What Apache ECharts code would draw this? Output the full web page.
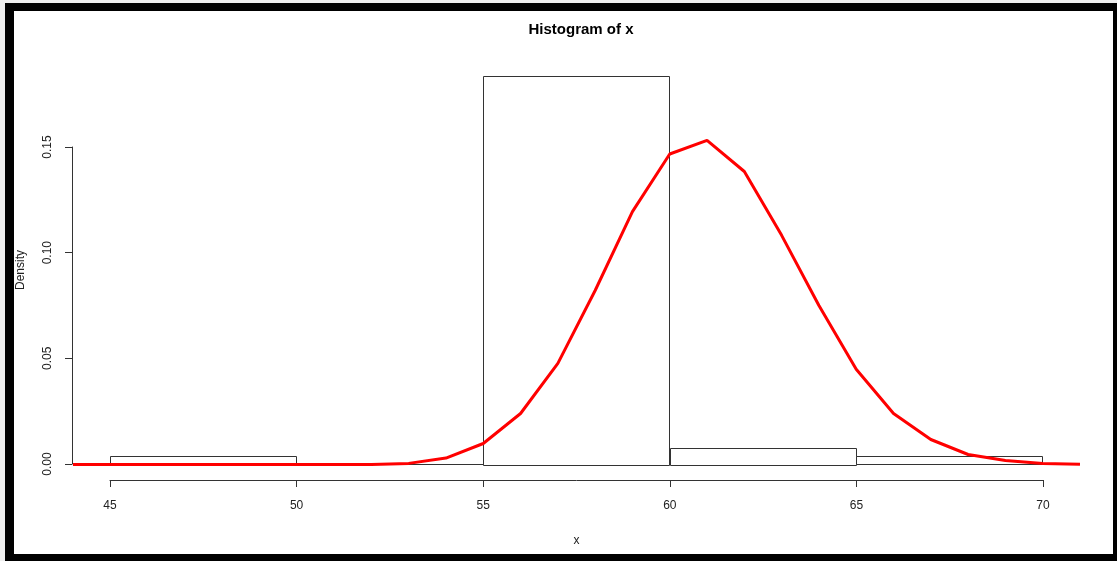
<!DOCTYPE html>
<html>
<head>
<meta charset="utf-8">
<script src="https://cdn.jsdelivr.net/npm/echarts@6/dist/echarts.min.js"></script>
<style>
  html, body { margin: 0; padding: 0; background: #fff; }
  #histChart { width: 1117px; height: 561px; }
</style>
</head>
<body>
<div id="histChart"></div>
<script>
// histogram bins (start, end) and density
const binStarts = [45, 50, 55, 60, 65];
const binEnds = [50, 55, 60, 65, 70];
const binDensity = [0.004, 0, 0.184, 0.008, 0.004];

// red density curve
const curveX = [44, 45, 46, 47, 48, 49, 50, 51, 52, 53, 54, 55, 56, 57, 58, 59, 60, 61, 62, 63, 64, 65, 66, 67, 68, 69, 70, 71];
const curveY = [0, 0, 0, 0, 0, 0, 0, 0, 0, 0.0005, 0.003, 0.0099, 0.0241, 0.0478, 0.0823, 0.1196, 0.1469, 0.1533, 0.1386, 0.1084, 0.0752, 0.045, 0.0241, 0.0118, 0.0047, 0.0019, 0.0005, 0.0001];

const xTicks = [45, 50, 55, 60, 65, 70];
const yTicks = [0, 0.05, 0.10, 0.15];

const font = "'Liberation Sans', Arial, sans-serif";

const drawHistogram = () => {
    const chart = echarts.init(document.getElementById('histChart'));

    const bins = binStarts.map((s, i) => [s, binEnds[i], binDensity[i]]);
    const curve = curveX.map((x, i) => [x, curveY[i]]);

    const ymax = Math.max(...binDensity) * 1.04;
    const ymin = -Math.max(...binDensity) * 0.04;

    const option = {
        backgroundColor: '#fff',
        animation: false,
        title: {
            text: 'Histogram of x',
            left: 576,
            top: 17,
            textAlign: 'center',
            textStyle: { fontFamily: font, fontSize: 15, fontWeight: 'bold', color: '#000' }
        },
        grid: [
            // plot region
            { left: 73, right: 37, top: 60, bottom: 81 },
            // x axis (45..70)
            { left: 110, right: 74, top: 60, bottom: 81 },
            // y axis (0..0.15)
            { left: 72, right: 37, top: 147, bottom: 97 }
        ],
        xAxis: [
            {
                gridIndex: 0, type: 'value', min: 44, max: 71,
                name: 'x', nameLocation: 'middle', nameGap: 55,
                nameTextStyle: { fontFamily: font, fontSize: 12, color: '#222' },
                axisLine: { show: false }, axisTick: { show: false },
                axisLabel: { show: false }, splitLine: { show: false }
            },
            {
                gridIndex: 1, type: 'value', min: xTicks[0], max: xTicks[xTicks.length - 1], interval: 5,
                position: 'bottom',
                axisLine: { lineStyle: { color: '#333', width: 1 } },
                axisTick: { length: 7, lineStyle: { color: '#333' } },
                axisLabel: { margin: 20, fontFamily: font, fontSize: 12, color: '#222' },
                splitLine: { show: false }
            },
            {
                gridIndex: 2, type: 'value', min: 0, max: 1, show: false
            }
        ],
        yAxis: [
            {
                gridIndex: 0, type: 'value', min: ymin, max: ymax,
                name: 'Density', nameLocation: 'middle', nameGap: 46, nameRotate: 90,
                nameTextStyle: { fontFamily: font, fontSize: 12, color: '#222' },
                axisLine: { show: false }, axisTick: { show: false },
                axisLabel: { show: false }, splitLine: { show: false }
            },
            {
                gridIndex: 1, type: 'value', min: 0, max: 1, show: false
            },
            {
                gridIndex: 2, type: 'value', min: yTicks[0], max: yTicks[yTicks.length - 1], interval: 0.05,
                axisLine: { show: true, lineStyle: { color: '#333', width: 1 } },
                axisTick: { show: true, length: 7, lineStyle: { color: '#333' } },
                axisLabel: {
                    margin: 18, rotate: 90, fontFamily: font, fontSize: 12, color: '#222',
                    formatter: (v) => v.toFixed(2)
                },
                splitLine: { show: false }
            }
        ],
        graphic: [
            // black frame
            { type: 'rect', shape: { x: 5, y: 3, width: 1112, height: 8 }, style: { fill: '#000' }, z: 100 },
            { type: 'rect', shape: { x: 5, y: 3, width: 9, height: 558 }, style: { fill: '#000' }, z: 100 },
            { type: 'rect', shape: { x: 1113, y: 3, width: 4, height: 558 }, style: { fill: '#000' }, z: 100 },
            { type: 'rect', shape: { x: 5, y: 554, width: 1112, height: 7 }, style: { fill: '#000' }, z: 100 },
            { type: 'rect', shape: { x: 0, y: 0, width: 1117, height: 3 }, style: { fill: '#eee' }, z: 100 },
            { type: 'rect', shape: { x: 0, y: 0, width: 5, height: 561 }, style: { fill: '#eee' }, z: 100 }
        ],
        series: [
            {
                type: 'custom',
                xAxisIndex: 0, yAxisIndex: 0,
                data: bins,
                renderItem: (params, api) => {
                    const p0 = api.coord([api.value(0), api.value(2)]);
                    const p1 = api.coord([api.value(1), 0]);
                    const x = Math.round(p0[0]) + 0.5;
                    const y = Math.round(p0[1]) + 0.5;
                    return {
                        type: 'rect',
                        shape: { x: x, y: y, width: Math.round(p1[0] - p0[0]), height: Math.round(p1[1] - p0[1]) },
                        style: { fill: '#fff', stroke: '#333', lineWidth: 1 }
                    };
                },
                z: 2
            },
            {
                type: 'line',
                xAxisIndex: 0, yAxisIndex: 0,
                data: curve,
                showSymbol: false,
                lineStyle: { color: '#ff0000', width: 3 },
                z: 3
            }
        ]
    };

    chart.setOption(option);
};

document.addEventListener('DOMContentLoaded', () => {
    drawHistogram();
});
</script>
</body>
</html>
